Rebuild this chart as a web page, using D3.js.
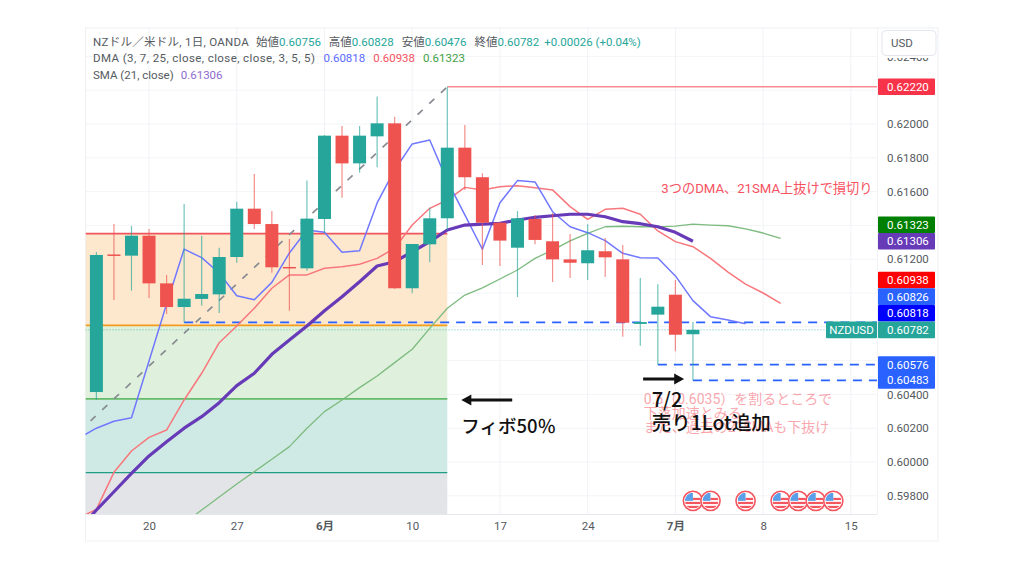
<!DOCTYPE html>
<html>
<head>
<meta charset="utf-8">
<script src="https://cdn.jsdelivr.net/npm/d3@7"></script>
<style>
  html, body { margin: 0; background: #fff; }
  svg { display: block; font-family: Roboto, "Noto Sans CJK JP", sans-serif; }
</style>
</head>
<body>
<script>
// daily candles, index 0 = first bar on screen
const opens  = [.60414,.61228,.61221,.61339,.61057,.60917,.60965,.60992,.61213,.61499,.61408,.61154,.61146,.61438,.61931,.61767,.61927,.62004,.61028,.61288,.61442,.61860,.61685,.61416,.61268,.61438,.61306,.61199,.61176,.61247,.61199,.60817,.60872,.60990,.60756];
const highs  = [.61243,.61408,.61396,.61379,.61107,.61527,.61339,.61268,.61540,.61704,.61485,.61320,.61665,.61935,.61988,.61988,.62162,.62043,.61290,.61505,.62220,.61994,.61708,.61420,.61485,.61462,.61473,.61349,.61407,.61325,.61284,.61089,.61052,.61077,.60828];
const lows   = [.60367,.60959,.61014,.60970,.60876,.60826,.60925,.60882,.61179,.61379,.61120,.60895,.61132,.61355,.61564,.61712,.61744,.61024,.60998,.61182,.61373,.61610,.61166,.61160,.60976,.61288,.61065,.61089,.61077,.61095,.60741,.60688,.60576,.60655,.60483];
const closes = [.61225,.61222,.61339,.61057,.60917,.60966,.60994,.61213,.61499,.61408,.61152,.61148,.61440,.61931,.61767,.61931,.62004,.61028,.61290,.61442,.61860,.61685,.61416,.61310,.61442,.61314,.61199,.61179,.61253,.61211,.60824,.60828,.60919,.60753,.60782];

// indicators, each series starts at index -1 except dma25 (index 5)
const dma3 = [.60142,.60200,.60241,.60262,.60598,.60935,.61260,.61209,.61118,.60984,.60960,.61063,.61237,.61373,.61359,.61241,.61250,.61533,.61728,.61882,.61905,.61663,.61462,.61259,.61534,.61665,.61657,.61481,.61392,.61357,.61310,.61235,.61209,.61207,.61101,.60955,.60860,.60840,.60818];
const dma7 = [.59669,.59720,.59939,.60065,.60146,.60189,.60367,.60525,.60706,.60805,.60910,.61028,.61107,.61107,.61146,.61156,.61170,.61205,.61265,.61402,.61501,.61550,.61625,.61610,.61629,.61635,.61623,.61610,.61511,.61436,.61495,.61501,.61466,.61367,.61304,.61274,.61205,.61124,.61053,.61000,.60938];
const dma25 = [.59639,.59716,.59793,.59870,.59943,.60016,.60091,.60200,.60298,.60367,.60440,.60509,.60588,.60667,.60791,.60910,.60988,.61030,.61083,.61136,.61205,.61254,.61308,.61353,.61392,.61395,.61392,.61391,.61396,.61407,.61402,.61398,.61379,.61355,.61323];
const sma21 = [.59598,.59716,.59824,.59933,.60036,.60120,.60200,.60268,.60351,.60452,.60525,.60637,.60722,.60805,.60895,.60978,.61067,.61160,.61185,.61244,.61304,.61373,.61402,.61408,.61412,.61432,.61448,.61457,.61466,.61466,.61451,.61422,.61410,.61392,.61359,.61306];

const gridPrices = [.598,.600,.602,.604,.606,.608,.610,.612,.614,.616,.618,.620,.622,.624];
const priceTicks = [.598,.600,.602,.604,.612,.616,.618,.620,.624];
const dayTicks = [3,8,13,18,23,28,33,38,43];
const dayLabels = ['20','27','6月','10','17','24','7月','8','15'];
const fibLevels = [.61351,.60809,.60373,.59937];
const eventDays = [34,35,37,39,40,41,42];

const tagValues = [.62220,.61323,.61306,.60938,.60826,.60818,.60782,.60576,.60483];
const tagColors = ['#f7334a','#008000','#673ab7','#ff0000','#2962ff','#0000ff','#26a69a','#2962ff','#2962ff'];

const UP = '#26a69a', DOWN = '#ef5350';
const W = 1024, H = 576, L = 85.5, R = 877, T = 28, B = 514, END = 938, BOT = 541;

const x = d3.scaleLinear().domain([0, 20]).range([96.4, 447.3]);
const y = d3.scaleLinear().domain([.598, .620]).range([495.8, 124]);
const bw = 13;

const svg = d3.select('body').append('svg').attr('width', W).attr('height', H);
svg.append('defs').append('clipPath').attr('id', 'plot')
  .append('rect').attr('x', L).attr('y', T).attr('width', R - L).attr('height', B - T);
svg.select('defs').append('clipPath').attr('id', 'flag').append('circle').attr('r', 8);

// frame
svg.append('rect').attr('x', L).attr('y', T).attr('width', END - L).attr('height', BOT - T)
  .attr('fill', '#fff').attr('stroke', '#eef0f4');

const plot = svg.append('g').attr('clip-path', 'url(#plot)');

// grid
plot.selectAll('.gy').data(gridPrices).join('line').attr('class', 'gy')
  .attr('x1', L).attr('x2', R).attr('y1', d => y(d)).attr('y2', d => y(d))
  .attr('stroke', '#f3f4f7');
plot.selectAll('.gx').data(dayTicks).join('line').attr('class', 'gx')
  .attr('x1', d => x(d)).attr('x2', d => x(d)).attr('y1', T).attr('y2', B)
  .attr('stroke', '#f1f2f6');

// fibonacci zones
const fibFill = ['#fde8cd', '#dff0dc', '#cfeae4', '#e3e4e7'];
const fibLine = ['#f0545c', '#f59b1c', '#66bb6a', '#1f9d85'];
const fibEdges = fibLevels.concat([.59]);
fibLevels.forEach((lv, i) => {
  plot.append('rect').attr('x', L).attr('width', x(20) - L)
    .attr('y', y(lv)).attr('height', y(fibEdges[i + 1]) - y(lv))
    .attr('fill', fibFill[i]);
  plot.append('line').attr('x1', L).attr('x2', x(20)).attr('y1', y(lv)).attr('y2', y(lv))
    .attr('stroke', fibLine[i]).attr('stroke-width', i === 3 ? 1.4 : 1.8);
});

// trend line up to the swing high
plot.append('line').attr('x1', x(-1)).attr('y1', y(.60179)).attr('x2', x(20)).attr('y2', y(.6222))
  .attr('stroke', '#888c92').attr('stroke-width', 1.7).attr('stroke-dasharray', '7 9');

// horizontal levels
plot.append('line').attr('x1', x(20)).attr('x2', R).attr('y1', y(.6222)).attr('y2', y(.6222))
  .attr('stroke', '#f98a90').attr('stroke-width', 1.4);
plot.append('line').attr('x1', L).attr('x2', R).attr('y1', y(.60782)).attr('y2', y(.60782))
  .attr('stroke', '#26a69a').attr('stroke-dasharray', '1 2').attr('opacity', .7);
[[5, .60826], [32, .60576], [34, .60483]].forEach(d => {
  plot.append('line').attr('x1', x(d[0])).attr('x2', R).attr('y1', y(d[1])).attr('y2', y(d[1]))
    .attr('stroke', '#2962ff').attr('stroke-width', 1.6).attr('stroke-dasharray', '9 7');
});

// indicators
const drawLine = (vals, start, color, width) => {
  const line = d3.line().x((d, i) => x(i + start)).y(d => y(d));
  plot.append('path').datum(vals).attr('d', line).attr('fill', 'none')
    .attr('stroke', color).attr('stroke-width', width).attr('stroke-linejoin', 'round');
};
drawLine(dma25, 5, '#7dbb7f', 1.3);
drawLine(dma7, -1, '#f8777c', 1.5);
drawLine(dma3, -1, '#7078ff', 1.5);
drawLine(sma21, -1, '#673ab7', 3.2);

// candles
const idx = d3.range(opens.length);
const col = i => closes[i] >= opens[i] ? UP : DOWN;
plot.selectAll('.wick').data(idx).join('line').attr('class', 'wick')
  .attr('x1', i => x(i)).attr('x2', i => x(i)).attr('y1', i => y(highs[i])).attr('y2', i => y(lows[i]))
  .attr('stroke', col).attr('stroke-width', 1.2).attr('opacity', .65);
plot.selectAll('.body').data(idx).join('rect').attr('class', 'body')
  .attr('x', i => x(i) - bw / 2).attr('width', bw)
  .attr('y', i => y(Math.max(opens[i], closes[i])))
  .attr('height', i => Math.max(1.5, Math.abs(y(opens[i]) - y(closes[i]))))
  .attr('fill', col);

// event flags
const flags = plot.selectAll('.ev').data(eventDays).join('g').attr('class', 'ev')
  .attr('transform', d => `translate(${x(d)},${y(.5977)})`);
flags.append('circle').attr('r', 9.6).attr('fill', '#fff').attr('stroke', '#f4555f').attr('stroke-width', 1.6);
const fl = flags.append('g').attr('clip-path', 'url(#flag)');
fl.append('rect').attr('x', -8).attr('y', -8).attr('width', 16).attr('height', 16).attr('fill', '#fff');
fl.append('rect').attr('x', -8).attr('y', 1).attr('width', 16).attr('height', 2.2).attr('fill', '#f4555f');
fl.append('rect').attr('x', -8).attr('y', 5).attr('width', 16).attr('height', 2.2).attr('fill', '#f4555f');
fl.append('rect').attr('x', 0).attr('y', -3).attr('width', 8).attr('height', 2.2).attr('fill', '#f4555f');
fl.append('rect').attr('x', -8).attr('y', -8).attr('width', 8).attr('height', 8).attr('fill', '#5b9fe8');

// axes
const yAxis = svg.append('g').attr('transform', `translate(${R},0)`)
  .call(d3.axisRight(y).tickValues(priceTicks).tickSize(0).tickPadding(10).tickFormat(d3.format('.5f')));
const xAxis = svg.append('g').attr('transform', `translate(0,${B})`)
  .call(d3.axisBottom(x).tickValues(dayTicks).tickSize(0).tickPadding(8).tickFormat((d, i) => dayLabels[i]));
[yAxis, xAxis].forEach(a => {
  a.select('.domain').remove();
  a.selectAll('text').attr('fill', '#555a60').attr('font-size', 11.5).attr('font-family', 'Roboto, "Noto Sans CJK JP", sans-serif');
});
xAxis.selectAll('text').filter((d, i) => dayLabels[i].includes('月')).attr('font-weight', 700);
svg.append('line').attr('x1', L).attr('x2', R).attr('y1', B + .5).attr('y2', B + .5).attr('stroke', '#e6e8ee');
svg.append('line').attr('x1', R + .5).attr('x2', R + .5).attr('y1', T).attr('y2', B).attr('stroke', '#f1f2f6');

// USD button hides the top tick
svg.append('rect').attr('x', R + 1).attr('y', T + 1).attr('width', END - R - 2).attr('height', 29).attr('fill', '#fff');
svg.append('rect').attr('x', 882).attr('y', 30.5).attr('width', 54).attr('height', 25).attr('rx', 4)
  .attr('fill', '#fff').attr('stroke', '#e4e6ee');
svg.append('text').attr('x', 891).attr('y', 47).text('USD').attr('font-size', 11.5).attr('fill', '#555a60');

// price tags, stacked upward from the last price like the platform does
const tagH = 16.6;
const tagY = tagValues.map(v => y(v));
for (let i = 5; i >= 3; i--) tagY[i] = Math.min(tagY[i], tagY[i + 1] - tagH);
tagY[1] = Math.min(tagY[1], tagY[2] - tagH);
tagValues.forEach((v, i) => {
  const cy = tagY[i];
  svg.append('rect').attr('x', R + 1).attr('y', cy - tagH / 2).attr('width', 57).attr('height', tagH)
    .attr('fill', tagColors[i]).attr('rx', 1);
  svg.append('text').attr('x', R + 10).attr('y', cy + 4).text(d3.format('.5f')(v))
    .attr('fill', '#fff').attr('font-size', 11.5);
});
svg.append('rect').attr('x', 826).attr('y', tagY[6] - tagH / 2).attr('width', 51).attr('height', tagH)
  .attr('fill', UP).attr('rx', 1);
svg.append('text').attr('x', 851.5).attr('y', tagY[6] + 4).attr('text-anchor', 'middle')
  .text('NZDUSD').attr('fill', '#fff').attr('font-size', 11.5);

// legend
const legend = (yy, parts) => {
  const t = svg.append('text').attr('y', yy).attr('x', 93).attr('font-size', 11.5);
  parts.forEach(p => {
    const s = t.append('tspan').text(p[0]).attr('fill', p[1]);
    if (p[2]) s.attr('dx', p[2]);
    if (p[3]) s.attr('letter-spacing', p[3]);
  });
};
const GR = '#555a60', TL = '#26a69a';
legend(46, [['NZドル／米ドル, 1日, OANDA', GR, 0, .28], ['始値', GR, 7], ['0.60756', TL], ['高値', GR, 8], ['0.60828', TL],
  ['安値', GR, 8], ['0.60476', TL], ['終値', GR, 8], ['0.60782', TL], ['+0.00026 (+0.04%)', TL, 5]]);
legend(62, [['DMA (3, 7, 25, close, close, close, 3, 5, 5)', GR, 0, .41], ['0.60818', '#5c6cff', 8], ['0.60938', '#f7525f', 8], ['0.61323', '#43a047', 8]]);
legend(79, [['SMA (21, close)', GR], ['0.61306', '#8e6bd1', 7]]);

// notes
svg.append('text').attr('x', x(32.2)).attr('y', y(.61621) + 4.5).text('3つのDMA、21SMA上抜けで損切り')
  .attr('font-size', 13.2).attr('fill', '#f7525f');
['0.5（0.6035）を割るところで', '下落加速とみる', 'また、過去の21SMAも下抜け'].forEach((s, i) => {
  svg.append('text').attr('x', x(31.2)).attr('y', y(.6039) + 8 + i * 14).text(s)
    .attr('font-size', 14).attr('fill', '#f7525f').attr('opacity', .5);
});

// black arrows and comments
const arrow = (i0, i1, p) => {
  const dir = i1 > i0 ? 1 : -1;
  svg.append('line').attr('x1', x(i0)).attr('x2', x(i1) - dir * 6).attr('y1', y(p)).attr('y2', y(p))
    .attr('stroke', '#111').attr('stroke-width', 2.8);
  svg.append('path').attr('fill', '#111')
    .attr('d', d3.line()([[x(i1), y(p)], [x(i1) - dir * 10, y(p) - 5.5], [x(i1) - dir * 10, y(p) + 5.5]]));
};
arrow(23.7, 20.8, .60367);
arrow(31.16, 33.5, .60491);
const note = (i, p, s, fs) => svg.append('text').attr('x', x(i)).attr('y', y(p)).text(s)
  .attr('font-size', fs).attr('fill', '#111').attr('font-weight', 500)
  .attr('font-family', '"Noto Sans CJK JP", sans-serif');
note(20.8, .60171, 'フィボ50％', 18.5);
note(31.65, .60325, '7/2', 20);
note(31.65, .60189, '売り1Lot追加', 19.5);
</script>
</body>
</html>
